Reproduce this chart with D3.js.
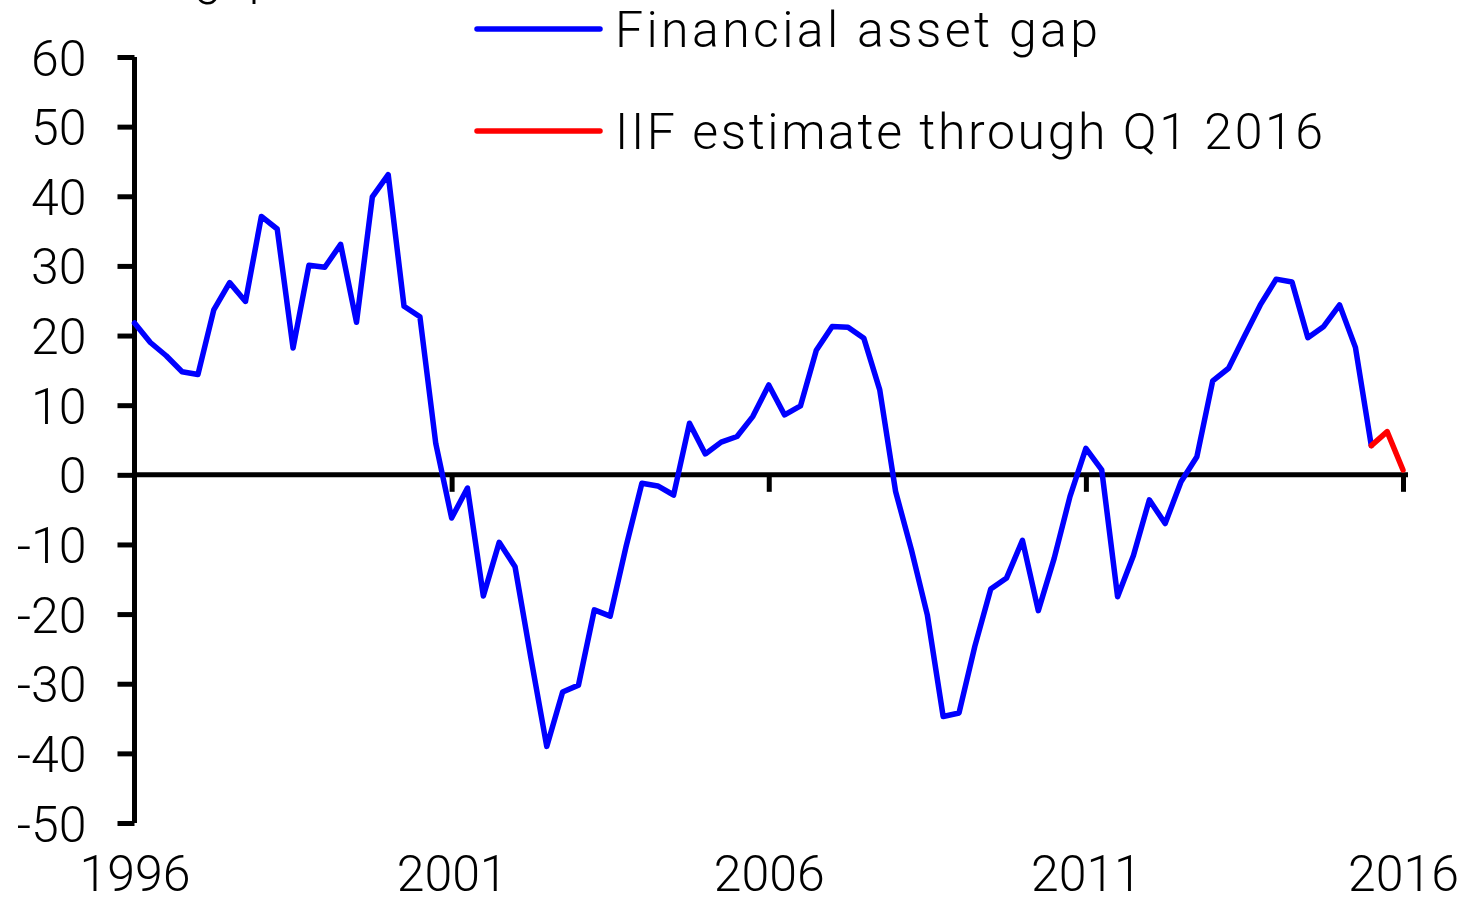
<!DOCTYPE html>
<html>
<head>
<meta charset="utf-8">
<script src="https://cdn.jsdelivr.net/npm/d3@7"></script>
<style>
  html, body { margin: 0; padding: 0; background: #fff; }
  svg { display: block; }
  text { font-family: Roboto, "Noto Sans", sans-serif; font-weight: 300; fill: #000; }
</style>
</head>
<body>
<svg id="chart" width="1470" height="898"></svg>
<script>
// Quarterly financial asset gap, 1996Q1 – 2015Q3
const startYear = 1996;
const financialGap = [
  21.8, 19.0, 17.1, 14.8, 14.4, 23.7, 27.6, 24.9, 37.1, 35.3,
  18.2, 30.1, 29.8, 33.1, 21.9, 39.9, 43.1, 24.2, 22.7, 4.5,
  -6.2, -1.9, -17.4, -9.7, -13.2, -26.3, -39.0, -31.2, -30.2, -19.4,
  -20.3, -10.3, -1.2, -1.6, -2.9, 7.4, 3.0, 4.7, 5.5, 8.4,
  12.9, 8.6, 9.9, 17.9, 21.3, 21.2, 19.6, 12.2, -2.4, -10.8,
  -20.1, -34.7, -34.2, -24.6, -16.4, -14.8, -9.4, -19.5, -12.0, -3.1,
  3.8, 0.7, -17.5, -11.6, -3.6, -7.0, -1.0, 2.6, 13.5, 15.3,
  19.9, 24.4, 28.1, 27.7, 19.7, 21.3, 24.4, 18.3, 4.2
];
// IIF estimate, 2015Q3 – 2016Q1
const estimateStart = 2015.5;
const iifEstimate = [4.2, 6.2, 0.7];

const yTicks = [60, 50, 40, 30, 20, 10, 0, -10, -20, -30, -40, -50];
const yearTicks = [1996, 2001, 2006, 2011, 2016];
const seriesNames = ["Financial asset gap", "IIF estimate through Q1 2016"];
const seriesColors = ["#0000ff", "#ff0000"];
const legendWidths = [483, 708];

const svg = d3.select("#chart");

const x = d3.scaleLinear().domain([1996, 2016]).range([134.5, 1403]);
const y = d3.scaleLinear().domain([-50, 60]).range([823, 57]);

const gapPts = financialGap.map((v, i) => ({ t: startYear + i / 4, v }));
const estPts = iifEstimate.map((v, i) => ({ t: estimateStart + i / 4, v }));

// partly hidden unit label at the top edge
svg.append("text")
  .attr("x", 145).attr("y", -6)
  .attr("font-size", 50)
  .text("% gap");

// y axis
const yAxis = svg.append("g")
  .attr("transform", `translate(${x(1996)},0)`)
  .call(d3.axisLeft(y).tickValues(yTicks).tickSize(17).tickPadding(31)
    .tickFormat(d => String(d)));
yAxis.select(".domain").attr("stroke", "#000").attr("stroke-width", 5)
  .attr("d", `M0,${y(60)}V${y(-50)}`);
yAxis.selectAll(".tick line").attr("stroke", "#000").attr("stroke-width", 5);
yAxis.selectAll(".tick text").attr("font-size", 50).attr("dy", "0.36em")
  .style("font-family", "Roboto, 'Noto Sans', sans-serif").style("font-weight", 300);

// zero line with year tick marks
const xAxis = svg.append("g")
  .attr("transform", `translate(0,${y(0)})`)
  .call(d3.axisBottom(x).tickValues(yearTicks.slice(1)).tickSize(17).tickFormat(""));
xAxis.select(".domain").attr("stroke", "#000").attr("stroke-width", 5)
  .attr("d", `M${x(1996)},0H${x(2016) + 5}`);
xAxis.selectAll(".tick line").attr("stroke", "#000").attr("stroke-width", 5);

// year labels along the bottom
const xLabels = svg.append("g")
  .attr("transform", `translate(0,${y(-50)})`)
  .call(d3.axisBottom(x).tickValues(yearTicks).tickSize(0).tickPadding(32)
    .tickFormat(d => String(d)));
xLabels.select(".domain").remove();
xLabels.selectAll(".tick text").attr("font-size", 50)
  .style("font-family", "Roboto, 'Noto Sans', sans-serif").style("font-weight", 300);

const line = d3.line().x(d => x(d.t)).y(d => y(d.v));

svg.append("path").datum(gapPts)
  .attr("d", line)
  .attr("fill", "none").attr("stroke", seriesColors[0]).attr("stroke-width", 5.5)
  .attr("stroke-linejoin", "round").attr("stroke-linecap", "round");

svg.append("path").datum(estPts)
  .attr("d", line)
  .attr("fill", "none").attr("stroke", seriesColors[1]).attr("stroke-width", 5.5)
  .attr("stroke-linejoin", "round").attr("stroke-linecap", "round");

// legend
const legend = svg.append("g");
seriesNames.forEach((name, i) => {
  const ly = 29 + i * 102;
  legend.append("line")
    .attr("x1", 477).attr("x2", 600).attr("y1", ly).attr("y2", ly)
    .attr("stroke", seriesColors[i]).attr("stroke-width", 5.5)
    .attr("stroke-linecap", "round");
  legend.append("text")
    .attr("x", 615).attr("y", ly + 18)
    .attr("font-size", 50)
    .attr("textLength", legendWidths[i])
    .attr("lengthAdjust", "spacing")
    .text(name);
});
</script>
</body>
</html>
